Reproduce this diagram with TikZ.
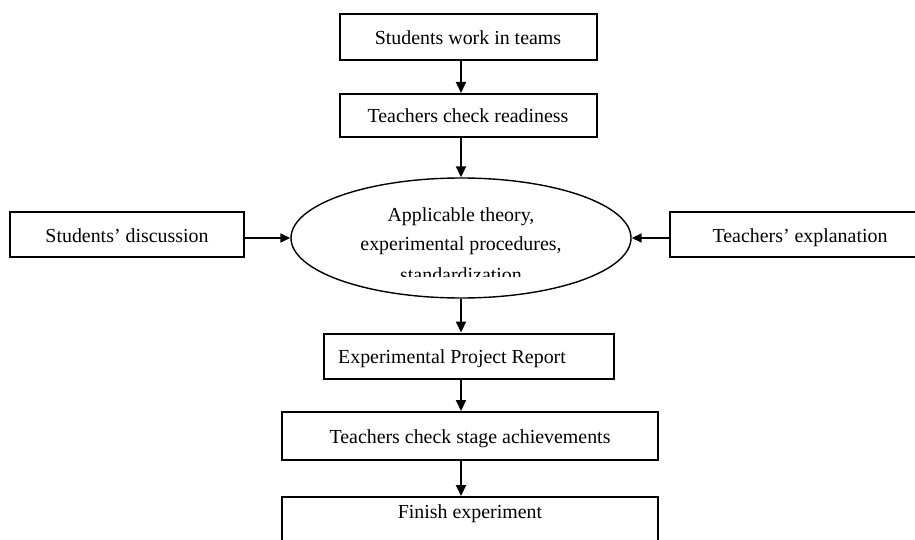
\documentclass[tikz,border=0pt]{standalone}
\usepackage{fontspec}
\setmainfont{Liberation Serif}
\usetikzlibrary{arrows.meta,shapes.geometric}
\begin{document}
\begin{tikzpicture}[x=1pt,y=-1pt,
  every node/.style={font=\fontsize{19.9}{30}\selectfont, inner sep=0pt},
  stagebox/.style={draw, line width=2pt, rectangle, minimum width=#1, text height=19pt, text depth=4pt},
  flow/.style={line width=2pt, -{Triangle[length=11pt,width=10pt]}},
  sideflow/.style={line width=1.7pt, -{Triangle[length=10pt,width=9pt]}}]
\useasboundingbox (0,0) rectangle (915,540);
\clip (0,0) rectangle (915,540);
\coordinate (spine) at (461,0);

% main column
\node[stagebox=257, minimum height=46] (b1) at (468,37) {Students work in teams};
\node[stagebox=257, minimum height=43] (b2) at (468,115.5) {Teachers check readiness};
\node[draw, ellipse, line width=1.4pt, minimum width=340, minimum height=120] (ell) at (461,238) {};
\node[stagebox=290, minimum height=45] (b4) at (469,356) {Experimental Project Report\hspace*{34pt}};
\node[stagebox=376, minimum height=48] (b5) at (470,436) {Teachers check stage achievements};
\node[stagebox=376, minimum height=80, anchor=north] (b6) at (470,496) {};
\node[anchor=base] (b6t) at (470,518) {Finish experiment};

% side inputs
\node[stagebox=234, minimum height=45] (lb) at (127,234.5) {Students’ discussion};
\node[stagebox=290, minimum height=45] (rb) at (815,234.5) {Teachers’ explanation\hspace*{30pt}};

% ellipse text, last line cut off at the bottom
\node[anchor=base] (t1) at (461,221) {Applicable theory,};
\node[anchor=base] (t2) at (461,250) {experimental procedures,};
\begin{scope}
  \clip (300,0) rectangle (620,276);
  \node[anchor=base] (t3) at (461,281) {standardization};
\end{scope}

% connectors
\draw[flow] (b1.south -| spine) -- (b2.north -| spine);
\draw[flow] (b2.south -| spine) -- (ell.north -| spine);
\draw[flow] (ell.south -| spine) -- (b4.north -| spine);
\draw[flow] (b4.south -| spine) -- (b5.north -| spine);
\draw[flow] (b5.south -| spine) -- (b6.north -| spine);
\draw[sideflow] (lb.east |- ell.west) -- (ell.west);
\draw[sideflow] (rb.west |- ell.east) -- (ell.east);
\end{tikzpicture}
\end{document}
